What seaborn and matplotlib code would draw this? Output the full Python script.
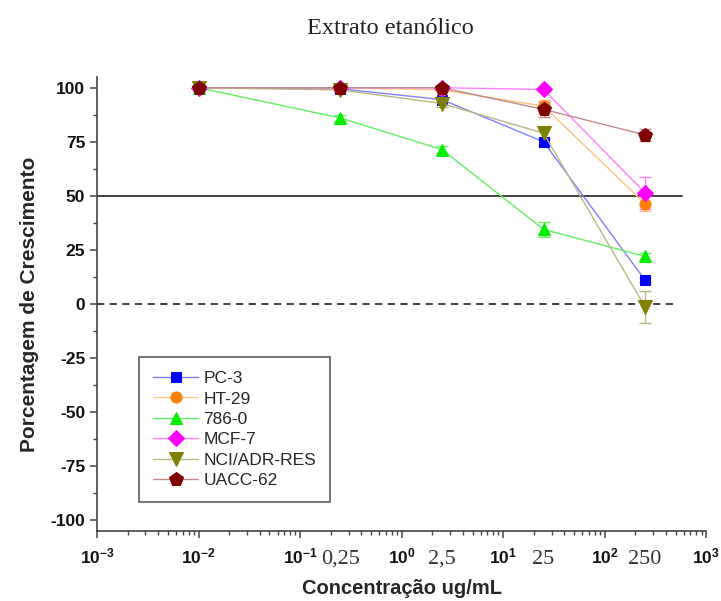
import matplotlib
matplotlib.use("Agg")
import matplotlib.pyplot as plt
import matplotlib.ticker as mticker
import numpy as np
import pandas as pd
import seaborn as sns

# concentrations (ug/mL)
conc = [0.01, 0.25, 2.5, 25, 250]
conc_labels = ["0,25", "2,5", "25", "250"]
decades = [1e-3, 1e-2, 1e-1, 1e0, 1e1, 1e2, 1e3]

cell_lines = ["PC-3", "HT-29", "786-0", "MCF-7", "NCI/ADR-RES", "UACC-62"]

pc3 = [100, 99.5, 94.5, 75, 11]
ht29 = [100, 100, 99, 91.5, 46.3]
c786 = [100, 86, 71.4, 34.5, 22]
mcf7 = [100, 100, 100, 99.2, 51.4]
nci = [100, 99, 92.7, 79, -1.4]
uacc = [100, 100, 100, 90, 78.2]

pc3_err = [0, 0, 1, 1.5, 1]
ht29_err = [0, 0, 0.5, 3, 3.5]
c786_err = [0, 1.5, 1.5, 3.5, 1.5]
mcf7_err = [0, 0, 0, 1, 7.4]
nci_err = [0, 1, 1.5, 2, 7.4]
uacc_err = [0, 0, 0.5, 3.4, 2.7]

values = [pc3, ht29, c786, mcf7, nci, uacc]
errors = [pc3_err, ht29_err, c786_err, mcf7_err, nci_err, uacc_err]

marker_colors = ["#0000ff", "#ff8000", "#00ee00", "#ff00ff", "#808000", "#800000"]
line_colors = ["#8080ff", "#ffc080", "#60f060", "#ff80ff", "#b8b880", "#c08a8a"]
markers = ["s", "o", "^", "D", "v", "p"]
msizes = [7, 8, 9, 8, 10, 10]

rows = []
for name, vals, errs in zip(cell_lines, values, errors):
    for c, v, e in zip(conc, vals, errs):
        rows.append({"conc": c, "pct": v, "err": e, "line": name})
df = pd.DataFrame(rows)

sns.set_style("ticks")
plt.rcParams["axes.unicode_minus"] = False
plt.rcParams["mathtext.fontset"] = "custom"
plt.rcParams["mathtext.rm"] = "Liberation Sans:bold"
plt.rcParams["mathtext.it"] = "Liberation Sans:bold"
plt.rcParams["mathtext.bf"] = "Liberation Sans:bold"

fig = plt.figure(figsize=(7.21, 6.01), dpi=100)
ax = fig.add_axes([0.1345, 0.1165, 0.845, 0.7555])

sns.lineplot(
    data=df, x="conc", y="pct", hue="line", style="line",
    hue_order=cell_lines, style_order=cell_lines,
    palette=dict(zip(cell_lines, line_colors)),
    markers=dict(zip(cell_lines, markers)), dashes=False,
    linewidth=1.0, legend=False, ax=ax, zorder=3,
)

handles = []
for line, mc, ms, name in zip(ax.lines, marker_colors, msizes, cell_lines):
    line.set_markerfacecolor(mc)
    line.set_markeredgecolor(mc)
    line.set_markersize(ms)
    line.set_label(name)
    handles.append(line)

for name, lc in zip(cell_lines, line_colors):
    sub = df[df["line"] == name]
    ax.errorbar(sub["conc"], sub["pct"], yerr=sub["err"], fmt="none",
                ecolor=lc, elinewidth=1.0, capsize=4, capthick=1.0, zorder=2)

ax.axhline(50, xmax=0.96, color="#333333", lw=1.3, zorder=1)
ax.axhline(0, xmax=0.952, color="#333333", lw=1.3, ls=(0, (4, 3)), zorder=1)

ax.set_xscale("log")
ax.set_xlim(decades[0], decades[-1])
ax.set_ylim(-105, 105)
ax.yaxis.set_major_locator(mticker.MultipleLocator(25))
ax.yaxis.set_minor_locator(mticker.MultipleLocator(12.5))
ax.set_xticks(decades)
ax.set_xticklabels([f"$10^{{{int(np.log10(d))}}}$" for d in decades])
ax.xaxis.set_minor_locator(mticker.LogLocator(base=10, subs=np.arange(2, 10), numticks=20))
ax.xaxis.set_minor_formatter(mticker.NullFormatter())

for s in ["top", "right"]:
    ax.spines[s].set_visible(False)
for s in ["left", "bottom"]:
    ax.spines[s].set_color("#444444")
    ax.spines[s].set_linewidth(1.2)

ax.tick_params(axis="both", which="major", length=5, width=1.1, color="#444444",
               labelsize=12.5, labelcolor="#111111")
ax.tick_params(axis="both", which="minor", length=3, width=1.0, color="#444444")
ax.tick_params(axis="x", which="major", pad=6)
for lab in ax.get_xticklabels() + ax.get_yticklabels():
    lab.set_fontfamily("Liberation Sans")
    lab.set_fontweight("bold")

# extra concentration labels in serif between the decades
for c, txt in zip(conc[1:], conc_labels):
    ax.text(c, -0.062, txt, transform=ax.get_xaxis_transform(),
            ha="center", va="center", fontsize=16, family="Liberation Serif",
            color="#333333")

ax.set_xlabel("Concentração ug/mL", fontsize=14.5, fontweight="bold",
              family="Liberation Sans", labelpad=9)
ax.set_ylabel("Porcentagem de Crescimento", fontsize=15, fontweight="bold",
              family="Liberation Sans", labelpad=8)

fig.text(0.542, 0.953, "Extrato etanólico", ha="center", va="center",
         fontsize=17.5, family="Liberation Serif", color="#222222")

leg = ax.legend(handles=handles, loc="lower left", bbox_to_anchor=(0.055, 0.045),
                frameon=True, fancybox=False, edgecolor="#333333",
                prop={"family": "Liberation Sans", "size": 12.5},
                handlelength=2.6, labelspacing=0.3, borderpad=0.8,
                handletextpad=0.3)
leg.get_frame().set_linewidth(1.2)

fig.savefig("out.png", dpi=100)
